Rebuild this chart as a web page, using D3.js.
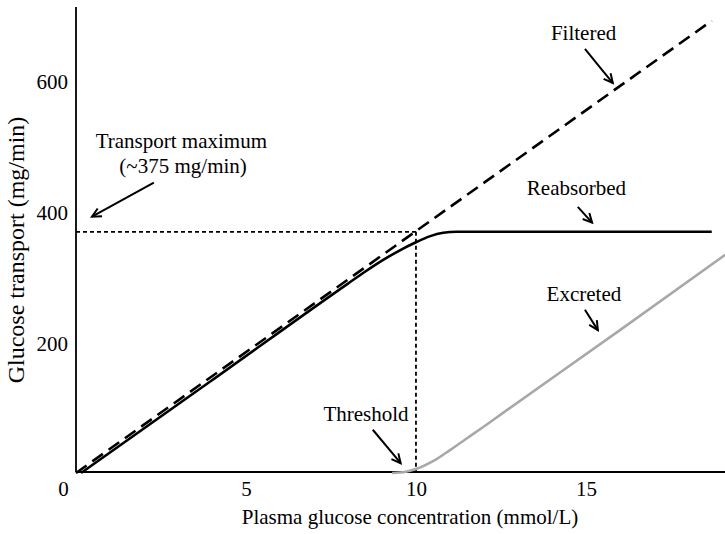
<!DOCTYPE html>
<html>
<head>
<meta charset="utf-8">
<script src="https://cdn.jsdelivr.net/npm/d3@7"></script>
<style>
  html, body { margin: 0; padding: 0; background: #fff; }
  svg { display: block; }
</style>
</head>
<body>
<svg id="chart" width="725" height="534"></svg>
<script>
// ---------------- data ----------------
const xTicks = [0, 5, 10, 15];
const yTicks = [200, 400, 600];
const transportMax = 368;     // mg/min (plateau as drawn, labelled ~375)
const thresholdX = 10;        // mmol/L

// Filtered load (dashed)
const filtered = [[0, 0], [18.7, 690]];
// Reabsorbed (solid black)
const reabsorbed = [[0.15, 0], [4, 141.5], [8, 289], [8.5, 307], [9, 324], [9.5, 339], [10, 352], [10.4, 361], [10.8, 366.5], [11.2, 368], [15, 368], [18.7, 368]];
// Excreted (grey)
const excreted = [[9.3, 0], [9.7, 2], [10, 6], [10.5, 18], [11, 35], [11.5, 53], [12, 71], [12.5, 89.5], [16, 218], [19.1, 333]];

// annotations: label lines at [x, y] in data units; arrow from -> to
const annotations = [
  { lines: ["Transport maximum", "(~375 mg/min)"], at: [[3.10, 496], [3.15, 458]], from: [2.29, 443], to: [0.47, 391] },
  { lines: ["Filtered"], at: [[14.93, 661]], from: [14.97, 647], to: [15.79, 595] },
  { lines: ["Reabsorbed"], at: [[14.72, 424]], from: [14.76, 406], to: [15.18, 382] },
  { lines: ["Excreted"], at: [[14.94, 263]], from: [14.97, 249], to: [15.35, 218] },
  { lines: ["Threshold"], at: [[8.53, 80]], from: [8.73, 66], to: [9.55, 15] }
];

const xTitle = "Plasma glucose concentration (mmol/L)";
const yTitle = "Glucose transport (mg/min)";

// ---------------- chart ----------------
const svg = d3.select("#chart");
const FONT = '"Liberation Serif", "Times New Roman", Tinos, serif';
const FS = "21px";

const x = d3.scaleLinear().domain([0, 19.09]).range([76, 725]);
const y = d3.scaleLinear().domain([0, 711]).range([473, 7]);

// axes
const xAxis = d3.axisBottom(x).tickValues(xTicks).tickSize(0).tickPadding(9).tickFormat(d3.format("d"));
const gx = svg.append("g").attr("transform", `translate(0,${y(0) - 1})`).call(xAxis);
gx.select(".domain").attr("stroke", "#000").attr("stroke-width", 1.8).attr("d", `M${x(0)},0H${x(19.09)}`);
gx.selectAll("text").style("font-family", FONT).style("font-size", FS).attr("fill", "#000");
gx.selectAll(".tick").filter(d => d === 0).select("text").attr("x", -13);

const yAxis = d3.axisLeft(y).tickValues(yTicks).tickSize(0).tickPadding(8);
const gy = svg.append("g").attr("transform", `translate(${x(0)},0)`).call(yAxis);
gy.select(".domain").attr("stroke", "#000").attr("stroke-width", 1.8).attr("d", `M0,${y(0) - 1}V${y(711)}`);
gy.selectAll("text").style("font-family", FONT).style("font-size", FS).attr("fill", "#000").attr("dy", "0.42em");

// reference dotted lines
const dotted = svg.append("g").attr("fill", "none").attr("stroke", "#000")
  .attr("stroke-width", 1.8).attr("stroke-dasharray", "4,3");
dotted.append("line").attr("x1", x(0)).attr("x2", x(thresholdX)).attr("y1", y(transportMax)).attr("y2", y(transportMax));
dotted.append("line").attr("x1", x(thresholdX)).attr("x2", x(thresholdX)).attr("y1", y(transportMax)).attr("y2", y(0));

// lines
const line = d3.line().x(d => x(d[0])).y(d => y(d[1]));
const smooth = d3.line().x(d => x(d[0])).y(d => y(d[1])).curve(d3.curveMonotoneX);

svg.append("path").datum(excreted).attr("d", smooth).attr("fill", "none")
  .attr("stroke", "#a8a8a8").attr("stroke-width", 2.6);
svg.append("path").datum(reabsorbed).attr("d", smooth).attr("fill", "none")
  .attr("stroke", "#000").attr("stroke-width", 2.6);
svg.append("path").datum(filtered).attr("d", line).attr("fill", "none")
  .attr("stroke", "#000").attr("stroke-width", 2.6).attr("stroke-dasharray", "13,7");

// arrow marker
svg.append("defs").append("marker")
  .attr("id", "arrow").attr("viewBox", "-10 -6 12 12")
  .attr("refX", 0).attr("refY", 0).attr("markerWidth", 12).attr("markerHeight", 12)
  .attr("markerUnits", "userSpaceOnUse").attr("orient", "auto")
  .append("path").attr("d", "M-9,-4.5 L0,0 L-9,4.5").attr("fill", "none")
  .attr("stroke", "#000").attr("stroke-width", 2).attr("stroke-linejoin", "miter");

// annotations
const ann = svg.append("g");
annotations.forEach(a => {
  a.lines.forEach((t, i) => {
    ann.append("text").attr("x", x(a.at[i][0])).attr("y", y(a.at[i][1]))
      .attr("text-anchor", "middle").attr("fill", "#000")
      .style("font-family", FONT).style("font-size", FS).text(t);
  });
  ann.append("line").attr("x1", x(a.from[0])).attr("y1", y(a.from[1]))
    .attr("x2", x(a.to[0])).attr("y2", y(a.to[1]))
    .attr("stroke", "#000").attr("stroke-width", 2).attr("marker-end", "url(#arrow)");
});

// axis titles
svg.append("text").attr("x", 410).attr("y", 524).attr("text-anchor", "middle").attr("fill", "#000")
  .style("font-family", FONT).style("font-size", FS).text(xTitle);
svg.append("text").attr("transform", "translate(24,250) rotate(-90)").attr("fill", "#000")
  .attr("text-anchor", "middle").style("font-family", FONT).style("font-size", "24px").text(yTitle);
</script>
</body>
</html>
